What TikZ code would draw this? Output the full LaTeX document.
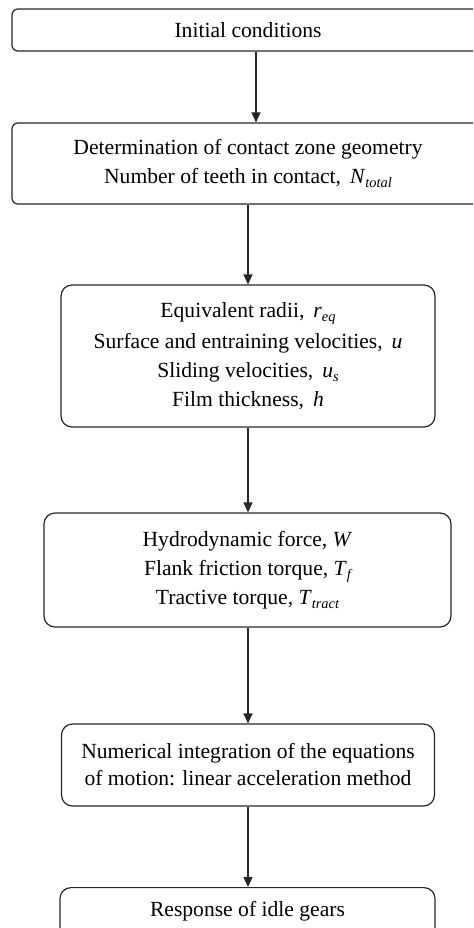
\documentclass[tikz,border=0pt]{standalone}
\usepackage{fontspec}
\setmainfont{Liberation Serif}
\usetikzlibrary{arrows.meta, positioning, calc}
\newcommand{\symb}[2]{\textit{#1}\raisebox{-0.45ex}{\fontsize{7.2}{7.2}\selectfont\itshape #2}}
\tikzset{
  every node/.style={font=\fontsize{10.8}{14.5}\selectfont},
  stage/.style={
    draw=black!85, line width=0.6pt, rounded corners=5.5pt,
    align=center, inner sep=0pt, text=black
  },
  flat/.style={stage, rounded corners=3pt},
  arr/.style={-{Triangle[length=5pt,width=4.5pt]}, line width=0.6pt, black!85},
}
\begin{document}
\begin{tikzpicture}[x=0.5pt, y=-0.5pt]
  % page frame
  \useasboundingbox (0,0) rectangle (473,928);
  \clip (0,0) rectangle (473,928);

  % Boxes
  \node[flat, minimum width=236pt, minimum height=21pt] (init) at (248,30)
    {Initial conditions};
  \node[flat, minimum width=236pt, minimum height=40.5pt] (geom) at (248,163.5)
    {Determination of contact zone geometry\\
     Number of teeth in contact,\, \symb{N}{total}};
  \node[stage, minimum width=187pt, minimum height=71pt] (kin) at (248,356)
    {Equivalent radii,\, \symb{r}{eq}\\[1pt]
     Surface and entraining velocities,\, \textit{u}\\
     Sliding velocities,\, \symb{u}{s}\\
     Film thickness,\, \textit{h}};
  \node[stage, minimum width=203.5pt, minimum height=57pt] (load) at (247.5,570)
    {Hydrodynamic force, \textit{W}\\
     Flank friction torque, \symb{T}{f}\\
     Tractive torque, \symb{T}{tract}};
  \node[stage, minimum width=186.5pt, minimum height=41pt] (integ) at (248,765)
    {Numerical integration of the equations\\[-1pt]
     of motion: linear acceleration method};
  % last box runs off the page
  \node[stage, minimum width=187.5pt, anchor=north, inner ysep=7pt,
        text depth=30pt] (resp) at (247.5,887)
    {Response of idle gears};

  % Arrows
  \draw[arr] ([xshift=4pt]init.south) -- ([xshift=4pt]geom.north);
  \draw[arr] (geom.south -| kin.north) -- (kin.north);
  \draw[arr] (kin.south) -- (load.north -| kin.south);
  \draw[arr] (load.south -| integ.north) -- (integ.north);
  \draw[arr] (integ.south) -- (resp.north -| integ.south);
\end{tikzpicture}
\end{document}
